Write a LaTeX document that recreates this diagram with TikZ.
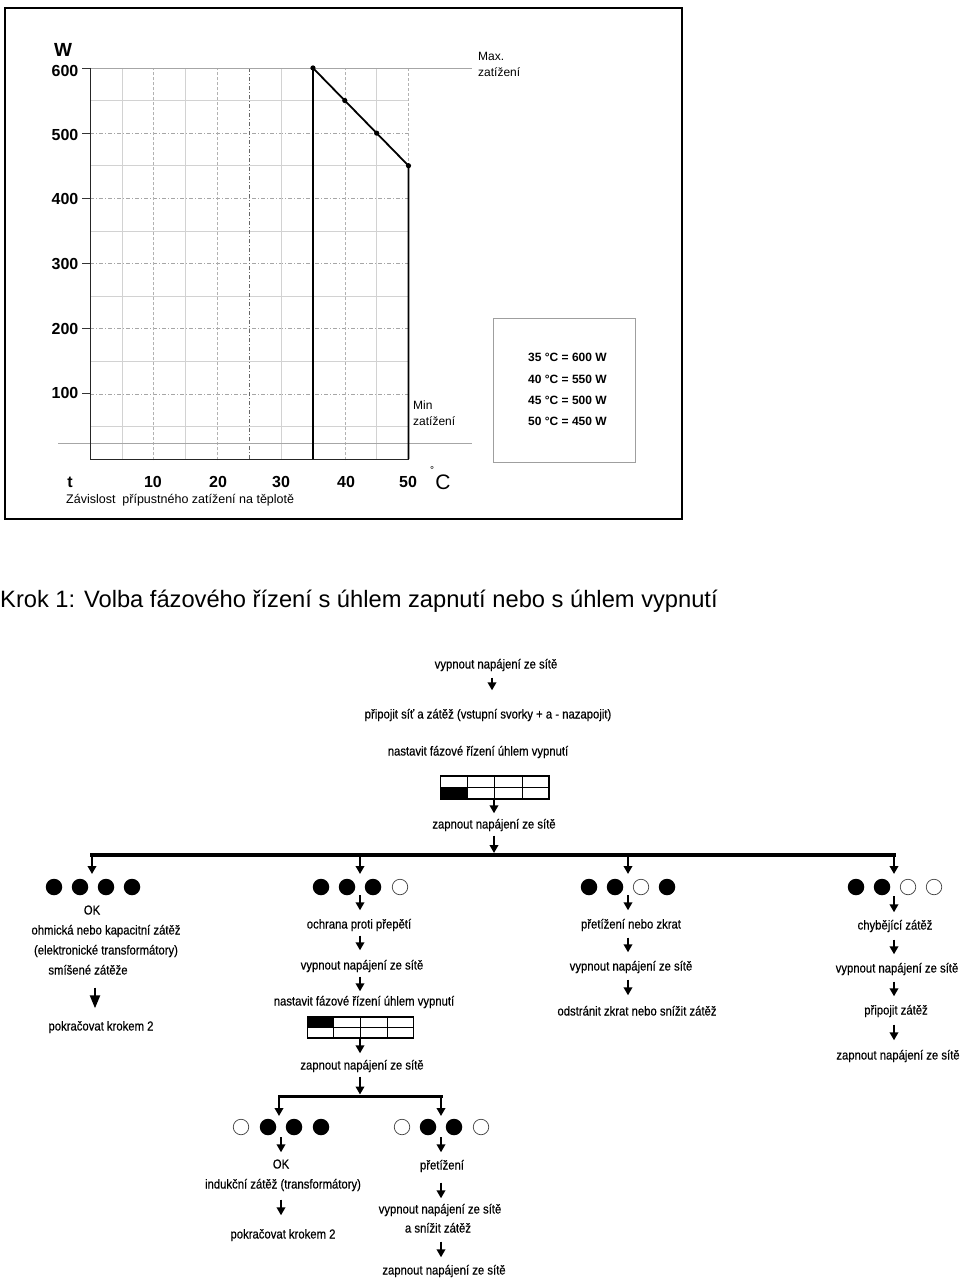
\documentclass[tikz,border=0pt]{standalone}
\usepackage{fontspec}
\setmainfont{Liberation Sans}
\newfontfamily\flowf[FakeStretch=0.87, FakeBold=0.4]{Liberation Sans}
\usetikzlibrary{arrows.meta,calc}
\newcommand\fa[5]{\draw[arr, shorten <=#4pt, shorten >=#5pt] (#1 -| #3) -- (#2 -| #3);}
\begin{document}
\begin{tikzpicture}[x=1pt,y=-1pt,
  txt/.style={font=\flowf\fontsize{13}{15}\selectfont, inner sep=0pt, text height=10pt, text depth=3pt},
  arr/.style={line width=2.3pt, -{Triangle[width=8.5pt,length=8pt]}},
  bigarr/.style={line width=2.3pt, -{Triangle[width=10pt,length=13pt]}},
  fdot/.style={circle, fill=black, minimum size=16.5pt, inner sep=0pt},
  odot/.style={circle, draw=black!75, line width=0.7pt, minimum size=15.5pt, inner sep=0pt},
  ax/.style={font=\fontsize{16}{16}\selectfont\bfseries, inner sep=0pt},
  lbl/.style={font=\fontsize{12}{14}\selectfont, inner sep=0pt, anchor=west},
  leg/.style={font=\fontsize{12}{14}\selectfont\bfseries, inner sep=0pt, anchor=west},
  gl/.style={gray!35, line width=0.6pt},
  gd/.style={gray!70, line width=0.6pt, dash pattern=on 4pt off 2pt on 1pt off 2pt},
  gv/.style={gray!60, line width=0.6pt, dash pattern=on 3pt off 2pt},
]
\useasboundingbox (0,0) rectangle (960,1284);
\fill[white] (0,0) rectangle (960,1284);

% ---------------- chart ----------------
\draw[line width=2.6pt] (5,8) rectangle (682,519);
\begin{scope}[shift={(90,459)}, x=6.37pt, y=0.6517pt]
  \foreach \w in {50,150,...,550} \draw[gl] (0,\w) -- (50,\w);
  \foreach \w in {100,200,...,500} \draw[gd] (0,\w) -- (50,\w);
  \foreach \w in {100,200,...,600} \draw[black!80, line width=0.7pt] (-1.2,\w) -- (0,\w);
  \foreach \t in {5,15,30,45} \draw[gl] (\t,0) -- (\t,600);
  \foreach \t in {10,20,40} \draw[gv] (\t,-2) -- (\t,600);
  \draw[gd, black!60] (25,0) -- (25,600);
  \draw[gv] (50,450) -- (50,600);
  \draw[gray!70, line width=0.6pt] (0,600) -- (60,600);
  \draw[gray!70, line width=0.6pt] (-5,24.5) -- (60,24.5);
  \draw[black!85, line width=0.8pt] (0,600) -- (0,0) -- (50,0);
  \draw[line width=1.8pt, line join=round] (35,0) -- (35,600) -- (40,550) -- (45,500) -- (50,450) -- (50,0);
  \foreach \t/\w in {35/600,40/550,45/500,50/450} \fill (\t,\w) circle[radius=2.6pt];
\end{scope}
\node[font=\fontsize{19}{19}\selectfont\bfseries, inner sep=0pt] (yW) at (63,50) {W};
\foreach \v/\yy in {600/71,500/135,400/199,300/264,200/329,100/393}
  \node[ax] (y\v) at (65,\yy) {\v};
\node[ax] (xt) at (70,482) {t};
\foreach \v/\xx in {10/153,20/218,30/281,40/346,50/408}
  \node[ax] (x\v) at (\xx,482) {\v};
\node[font=\fontsize{10}{10}\selectfont, inner sep=0pt] (xdeg) at (432,470) {°};
\node[font=\fontsize{21}{21}\selectfont, inner sep=0pt] (xC) at (443,482) {C};
\node[font=\fontsize{12.5}{14}\selectfont, inner sep=0pt, anchor=west] (cap) at (66,500) {Závislost\ \ přípustného zatížení na těplotě};
\node[lbl] (max1) at (478,56) {Max.};
\node[lbl] (max2) at (478,72) {zatížení};
\node[lbl] (min1) at (413,405) {Min};
\node[lbl] (min2) at (413,421) {zatížení};
\draw[gray!75, line width=0.8pt] (493,318) rectangle (635,462);
\node[leg] (l1) at (528,357) {35 °C = 600 W};
\node[leg] (l2) at (528,379) {40 °C = 550 W};
\node[leg] (l3) at (528,400) {45 °C = 500 W};
\node[leg] (l4) at (528,421) {50 °C = 450 W};

% ---------------- title ----------------
\node[font=\fontsize{23.7}{26}\selectfont, inner sep=0pt, anchor=base west] (title) at (0,607)
  {Krok 1: Volba fázového řízení s úhlem zapnutí nebo s úhlem vypnutí};

% ---------------- flow: column coordinates ----------------
\coordinate (XA) at (492,0);
\coordinate (XB) at (494,0);
\coordinate (X1) at (95,0);
\coordinate (X2) at (360,0);
\coordinate (X3) at (628,0);
\coordinate (X4) at (894,0);
\coordinate (XL) at (281,0);
\coordinate (XR) at (441,0);

% top chain
\node[txt] (t1) at (496,665) {vypnout napájení ze sítě};
\node[txt] (t2) at (488,715) {připojit síť a zátěž (vstupní svorky + a - nazapojit)};
\node[txt] (t3) at (478,752) {nastavit fázové řízení úhlem vypnutí};
\node[draw, line width=1.1pt, minimum width=108.3pt, minimum height=23pt, inner sep=0pt] (g1) at (494.8,787.5) {};
\fill (g1.south west) rectangle ($(g1.south west)+(27.1,-11.5)$);
\draw[line width=1.1pt] (g1.west) -- (g1.east);
\foreach \f in {0.25,0.5,0.75}
  \draw[line width=1.1pt] ($(g1.north west)!\f!(g1.north east)$) -- ($(g1.south west)!\f!(g1.south east)$);
\node[txt] (t5) at (494,825) {zapnout napájení ze sítě};
\fa{t1.south}{t2.north}{XA}{6}{18}
\fa{g1.south}{t5.north}{XB}{0}{5}
\coordinate (bin) at (494,855);
\fa{t5.south}{bin}{XB}{4}{2}

% main bar
\coordinate (b1) at (92,855);
\coordinate (b2) at (360,855);
\coordinate (b3) at (628,855);
\coordinate (b4) at (894,855);
\draw[line width=4pt, line cap=rect] (b1) -- (b4);
\coordinate (r1) at (92,879);
\coordinate (r2) at (360,879);
\coordinate (r3) at (628,879);
\coordinate (r4) at (894,879);
\foreach \i in {1,2,3,4} \draw[arr, shorten >=5pt] (b\i) -- (r\i);

% column 1
\node[fdot] (d11) at (54,887) {};
\node[fdot] (d12) at (80,887) {};
\node[fdot] (d13) at (106,887) {};
\node[fdot] (d14) at (132,887) {};
\node[txt] (n1ok) at (92,911) {OK};
\node[txt] (n1a) at (106,931) {ohmická nebo kapacitní zátěž};
\node[txt] (n1b) at (106,951) {(elektronické transformátory)};
\node[txt] (n1c) at (88,971) {smíšené zátěže};
\node[txt] (n1d) at (101,1027) {pokračovat krokem 2};
\draw[bigarr, shorten <=10pt, shorten >=12pt] (n1c.south -| X1) -- (n1d.north -| X1);

% column 2
\node[fdot] (d21) at (321,887) {};
\node[fdot] (d22) at (347,887) {};
\node[fdot] (d23) at (373,887) {};
\node[odot] (d24) at (400,887) {};
\node[txt] (n2a) at (359,925) {ochrana proti přepětí};
\node[txt] (n2b) at (362,966) {vypnout napájení ze sítě};
\node[txt] (n2c) at (364,1002) {nastavit fázové řízení úhlem vypnutí};
\node[draw, line width=1.1pt, minimum width=105.6pt, minimum height=21pt, inner sep=0pt] (g2) at (360.5,1027.5) {};
\fill (g2.north west) rectangle ($(g2.north west)+(26.4,10.5)$);
\draw[line width=1.1pt] (g2.west) -- (g2.east);
\foreach \f in {0.25,0.5,0.75}
  \draw[line width=1.1pt] ($(g2.north west)!\f!(g2.north east)$) -- ($(g2.south west)!\f!(g2.south east)$);
\node[txt] (n2d) at (362,1066) {zapnout napájení ze sítě};
\fa{d22.south}{n2a.north}{X2}{0}{8}
\fa{n2a.south}{n2b.north}{X2}{4}{9}
\fa{n2b.south}{n2c.north}{X2}{4}{4}
\fa{g2.south}{n2d.north}{X2}{0}{6}
\coordinate (bin2) at (360,1096);
\fa{n2d.south}{bin2}{X2}{4}{1.5}

% sub bar
\coordinate (bL) at (279,1096);
\coordinate (bR) at (441,1096);
\draw[line width=3pt, line cap=rect] (bL) -- (bR);
\coordinate (rL) at (279,1119);
\coordinate (rR) at (441,1119);
\draw[arr, shorten >=3pt] (bL) -- (rL);
\draw[arr, shorten >=3pt] (bR) -- (rR);

% sub-left
\node[odot] (dL1) at (241,1127) {};
\node[fdot] (dL2) at (268,1127) {};
\node[fdot] (dL3) at (294,1127) {};
\node[fdot] (dL4) at (321,1127) {};
\node[txt] (nLa) at (281,1165) {OK};
\node[txt] (nLb) at (283,1185) {indukční zátěž (transformátory)};
\node[txt] (nLc) at (283,1235) {pokračovat krokem 2};
\fa{dL2.south}{nLa.north}{XL}{2}{6}
\fa{nLb.south}{nLc.north}{XL}{8}{13}

% sub-right
\node[odot] (dR1) at (402,1127) {};
\node[fdot] (dR2) at (428,1127) {};
\node[fdot] (dR3) at (454,1127) {};
\node[odot] (dR4) at (481,1127) {};
\node[txt] (nRa) at (442,1166) {přetížení};
\node[txt] (nRb) at (440,1210) {vypnout napájení ze sítě};
\node[txt] (nRc) at (438,1229) {a snížit zátěž};
\node[txt] (nRd) at (444,1271) {zapnout napájení ze sítě};
\fa{dR2.south}{nRa.north}{XR}{2}{7}
\fa{nRa.south}{nRb.north}{XR}{10}{5}
\fa{nRc.south}{nRd.north}{XR}{6}{7}

% column 3
\node[fdot] (d31) at (589,887) {};
\node[fdot] (d32) at (615,887) {};
\node[odot] (d33) at (641,887) {};
\node[fdot] (d34) at (667,887) {};
\node[txt] (n3a) at (631,925) {přetížení nebo zkrat};
\node[txt] (n3b) at (631,967) {vypnout napájení ze sítě};
\node[txt] (n3c) at (637,1012) {odstránit zkrat nebo snížit zátěž};
\fa{d32.south}{n3a.north}{X3}{0}{8}
\fa{n3a.south}{n3b.north}{X3}{6}{8}
\fa{n3b.south}{n3c.north}{X3}{6}{10}

% column 4
\node[fdot] (d41) at (856,887) {};
\node[fdot] (d42) at (882,887) {};
\node[odot] (d43) at (908,887) {};
\node[odot] (d44) at (934,887) {};
\node[txt] (n4a) at (895,926) {chybějící zátěž};
\node[txt] (n4b) at (897,969) {vypnout napájení ze sítě};
\node[txt] (n4c) at (896,1011) {připojit zátěž};
\node[txt] (n4d) at (898,1056) {zapnout napájení ze sítě};
\fa{d42.south}{n4a.north}{X4}{1}{7}
\fa{n4a.south}{n4b.north}{X4}{7}{8}
\fa{n4b.south}{n4c.north}{X4}{6}{8}
\fa{n4c.south}{n4d.north}{X4}{7}{9}
\end{tikzpicture}
\end{document}
